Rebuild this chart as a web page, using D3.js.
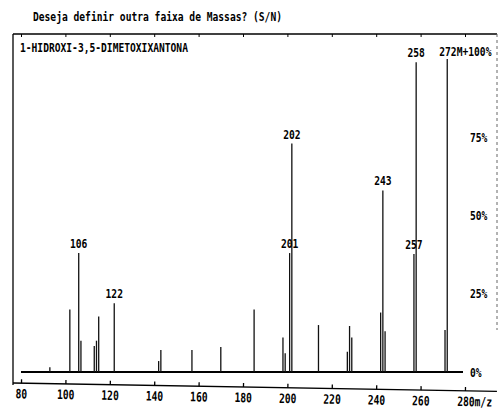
<!DOCTYPE html>
<html>
<head>
<meta charset="utf-8">
<script src="https://cdn.jsdelivr.net/npm/d3@7"></script>
<style>
  body { margin: 0; background: #fff; }
  text { font-family: "DejaVu Sans Mono", "Liberation Mono", monospace; fill: #000; font-weight: bold; }
</style>
</head>
<body>
<svg id="spec" width="500" height="409"></svg>
<script>
// mass spectrum values (m/z, relative intensity 0..1)
masses      = [93, 102, 106, 107, 113, 114, 115, 122, 142, 143, 157, 170, 185, 198, 199, 201, 202, 214, 227, 228, 229, 242, 243, 244, 257, 258, 271, 272];
intensities = [0.015, 0.20, 0.38, 0.10, 0.083, 0.10, 0.177, 0.22, 0.035, 0.07, 0.07, 0.08, 0.20, 0.11, 0.06, 0.38, 0.73, 0.15, 0.065, 0.147, 0.11, 0.19, 0.58, 0.13, 0.377, 0.99, 0.134, 1.00];
labelled    = [106, 122, 201, 202, 243, 257, 258];
massTicks   = [80, 100, 120, 140, 160, 180, 200, 220, 240, 260, 280];
pctTicks    = [0, 0.25, 0.5, 0.75];

titleText = "Deseja definir outra faixa de Massas? (S/N)";
compound  = "1-HIDROXI-3,5-DIMETOXIXANTONA";

svg = d3.select("#spec");
charW = 5.8;

// squeeze the mono font horizontally so it looks like the narrow printer font
function narrow(sel) {
    sel.each(function () {
        let t = d3.select(this);
        let fs = +t.attr("font-size") || 13;
        let k = charW / (0.602 * fs);
        let tx = +t.attr("x") || 0, ty = +t.attr("y") || 0;
        t.attr("x", 0).attr("y", 0)
            .attr("transform", "translate(" + tx + "," + ty + ") scale(" + k + ",1)");
    });
}

x = d3.scaleLinear().domain([80, 280]).range([21, 465]);
y = d3.scaleLinear().domain([0, 1]).range([372, 59]);

// frame
svg.append("line").attr("x1", 13).attr("x2", 497).attr("y1", 34).attr("y2", 34)
    .attr("stroke", "#000").attr("stroke-width", 1.3);
svg.append("line").attr("x1", 13).attr("x2", 13).attr("y1", 34).attr("y2", 385)
    .attr("stroke", "#000").attr("stroke-width", 1.3);
svg.append("line").attr("x1", 497).attr("x2", 497).attr("y1", 34).attr("y2", 330)
    .attr("stroke", "#666").attr("stroke-width", 1).attr("stroke-dasharray", "3,3");

topAxis = svg.append("g").attr("transform", "translate(0,34)")
    .call(d3.axisTop(x).tickValues(massTicks).tickSize(-3).tickFormat(""));
topAxis.select(".domain").remove();

// header texts
svg.append("text").attr("x", 33).attr("y", 21).attr("font-size", 12.5).text(titleText).call(narrow);
svg.append("text").attr("x", 20).attr("y", 52).attr("font-size", 12.5).text(compound).call(narrow);

// baseline
svg.append("line").attr("x1", x(80)).attr("x2", 463).attr("y1", y(0)).attr("y2", y(0))
    .attr("stroke", "#000").attr("stroke-width", 2);

// peaks
peaks = masses.map((m, i) => ({m: m, v: intensities[i]}));
svg.append("g").selectAll("line")
    .data(peaks)
    .enter().append("line")
    .attr("x1", d => x(d.m)).attr("x2", d => x(d.m))
    .attr("y1", y(0)).attr("y2", d => y(d.v))
    .attr("stroke", "#111").attr("stroke-width", 1.3);

// peak labels
svg.append("g").selectAll("text")
    .data(peaks.filter(d => labelled.includes(d.m)))
    .enter().append("text")
    .attr("x", d => x(d.m)).attr("y", d => y(d.v) - 5)
    .attr("text-anchor", "middle").attr("font-size", 13)
    .text(d => d.m).call(narrow);

basePeak = peaks.find(d => d.m == 272);
svg.append("text").attr("x", x(basePeak.m) - 8).attr("y", y(basePeak.v) - 3)
    .attr("font-size", 13).text("272M+100%").call(narrow);

// right percent scale
pctAxis = svg.append("g").attr("transform", "translate(470,0)")
    .call(d3.axisRight(y).tickValues(pctTicks).tickSize(0).tickPadding(0).tickFormat(d => Math.round(d * 100) + "%"));
pctAxis.select(".domain").remove();
pctAxis.selectAll("text").attr("font-size", 13).attr("font-family", null).call(narrow);

// bottom axis (printout is slightly skewed)
massAxis = svg.append("g").attr("transform", "translate(0,383) rotate(1 13 0)");
massAxis.append("line").attr("x1", 13).attr("x2", 497).attr("y1", 0).attr("y2", 0)
    .attr("stroke", "#000").attr("stroke-width", 1.3);
massAxis.call(d3.axisBottom(x).tickValues(massTicks).tickSize(-4).tickPadding(6)
    .tickFormat(d => d == 280 ? "280m/z" : d));
massAxis.select(".domain").remove();
massAxis.selectAll(".tick line").attr("stroke-width", 1.3);
massAxis.selectAll(".tick text").filter(d => d == 280).attr("text-anchor", "start").attr("x", -8);
massAxis.selectAll("text").attr("font-size", 13).attr("font-family", null).call(narrow);
</script>
</body>
</html>
